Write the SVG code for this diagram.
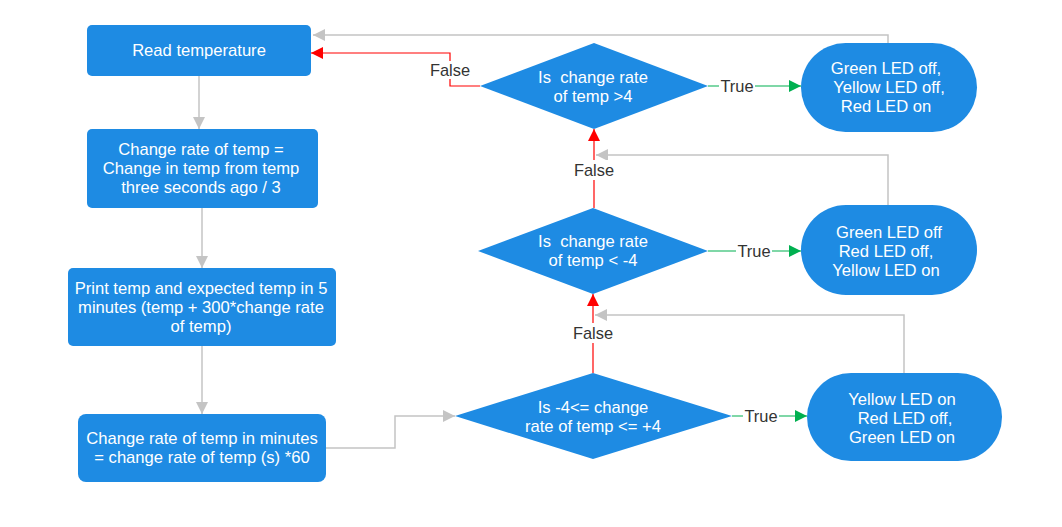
<svg xmlns="http://www.w3.org/2000/svg" width="1062" height="527" viewBox="0 0 1062 527">
<defs>
<style>
.node{fill:#1e8be3;}
.nt{font-family:"Liberation Sans",Arial,sans-serif;font-size:16.6px;fill:#ffffff;text-anchor:middle;}
.lbl{font-family:"Liberation Sans",Arial,sans-serif;font-size:16.4px;fill:#333333;text-anchor:middle;}
.lb{fill:#ffffff;}
.g{fill:none;stroke:#c4c4c4;stroke-width:1.5;}
.r{fill:none;stroke:#ff0000;stroke-width:1.2;}
.gr{fill:none;stroke:#00b050;stroke-width:1.2;}
</style>
<marker id="ag" viewBox="0 0 12 12" refX="12" refY="6" markerWidth="12" markerHeight="12" markerUnits="userSpaceOnUse" orient="auto"><path d="M0,0 L12,6 L0,12 z" fill="#c4c4c4"/></marker>
<marker id="ar" viewBox="0 0 12 12" refX="12" refY="6" markerWidth="12" markerHeight="12" markerUnits="userSpaceOnUse" orient="auto"><path d="M0,0 L12,6 L0,12 z" fill="#ff0000"/></marker>
<marker id="agr" viewBox="0 0 12 12" refX="12" refY="6" markerWidth="12" markerHeight="12" markerUnits="userSpaceOnUse" orient="auto"><path d="M0,0 L12,6 L0,12 z" fill="#00b050"/></marker>
</defs>
<rect width="1062" height="527" fill="#ffffff"/>
<g id="connectors">
<path class="g" d="M199,76 V129" marker-end="url(#ag)"/>
<path class="g" d="M202,208 V268" marker-end="url(#ag)"/>
<path class="g" d="M202,346 V414" marker-end="url(#ag)"/>
<path class="g" d="M326,448 H395 V416 H455" marker-end="url(#ag)"/>
<path class="g" d="M888,43 V35 H313" marker-end="url(#ag)"/>
<path class="g" d="M888,205 V155 H596" marker-end="url(#ag)"/>
<path class="g" d="M904,373 V315 H595" marker-end="url(#ag)"/>
<path class="r" d="M593,373 V294" marker-end="url(#ar)"/>
<path class="r" d="M594,208 V129" marker-end="url(#ar)"/>
<path class="r" d="M480,86 H450 V53 H311" marker-end="url(#ar)"/>
<path class="gr" d="M708,86 H801" marker-end="url(#agr)"/>
<path class="gr" d="M708,251 H801" marker-end="url(#agr)"/>
<path class="gr" d="M732,416 H807" marker-end="url(#agr)"/>
<rect class="lb" x="571" y="323" width="44" height="20"/>
<text class="lbl" x="593" y="339">False</text>
<rect class="lb" x="572" y="160" width="44" height="20"/>
<text class="lbl" x="594" y="176">False</text>
<rect class="lb" x="428" y="61" width="44" height="18"/>
<text class="lbl" x="450" y="76">False</text>
<rect class="lb" x="719" y="77" width="36" height="18"/>
<text class="lbl" x="737" y="92">True</text>
<rect class="lb" x="736" y="242" width="36" height="18"/>
<text class="lbl" x="754" y="257">True</text>
<rect class="lb" x="743" y="407" width="36" height="18"/>
<text class="lbl" x="761" y="422">True</text>
</g>
<g id="read">
<rect class="node" x="87" y="25" width="224" height="51" rx="5"/>
<text class="nt" x="199" y="56">Read temperature</text>
</g>
<g id="changerate">
<rect class="node" x="87" y="129" width="231" height="79" rx="5"/>
<text class="nt" x="201" y="155">Change rate of temp =</text>
<text class="nt" x="201" y="174">Change in temp from temp</text>
<text class="nt" x="201" y="193">three seconds ago / 3</text>
</g>
<g id="print">
<rect class="node" x="68" y="268" width="268" height="78" rx="5"/>
<text class="nt" x="201" y="294">Print temp and expected temp in 5</text>
<text class="nt" x="201" y="313">minutes (temp + 300*change rate</text>
<text class="nt" x="201" y="332">of temp)</text>
</g>
<g id="minutes">
<rect class="node" x="78" y="414" width="248" height="68" rx="8"/>
<text class="nt" x="202" y="444">Change rate of temp in minutes</text>
<text class="nt" x="202" y="463">= change rate of temp (s) *60</text>
</g>
<g id="d1">
<polygon class="node" points="594,43 708,86 594,129 480,86"/>
<text class="nt" x="593" y="83" xml:space="preserve">Is  change rate</text>
<text class="nt" x="593" y="102">of temp &gt;4</text>
</g>
<g id="d2">
<polygon class="node" points="593,208 708,251 593,294 478,251"/>
<text class="nt" x="593" y="247" xml:space="preserve">Is  change rate</text>
<text class="nt" x="593" y="266">of temp &lt; -4</text>
</g>
<g id="d3">
<polygon class="node" points="593,373 732,416 593,459 455,416"/>
<text class="nt" x="593" y="413">Is -4&lt;= change</text>
<text class="nt" x="593" y="432">rate of temp &lt;= +4</text>
</g>
<g id="t1">
<rect class="node" x="801" y="43" width="176" height="89" rx="44.5"/>
<text class="nt" x="886" y="74">Green LED off,</text>
<text class="nt" x="889" y="93">Yellow LED off,</text>
<text class="nt" x="886" y="112">Red LED on</text>
</g>
<g id="t2">
<rect class="node" x="801" y="205" width="176" height="90" rx="45"/>
<text class="nt" x="889" y="238">Green LED off</text>
<text class="nt" x="886" y="257">Red LED off,</text>
<text class="nt" x="886" y="276">Yellow LED on</text>
</g>
<g id="t3">
<rect class="node" x="807" y="373" width="195" height="88" rx="44"/>
<text class="nt" x="902" y="405">Yellow LED on</text>
<text class="nt" x="905" y="424">Red LED off,</text>
<text class="nt" x="902" y="443">Green LED on</text>
</g>
</svg>
